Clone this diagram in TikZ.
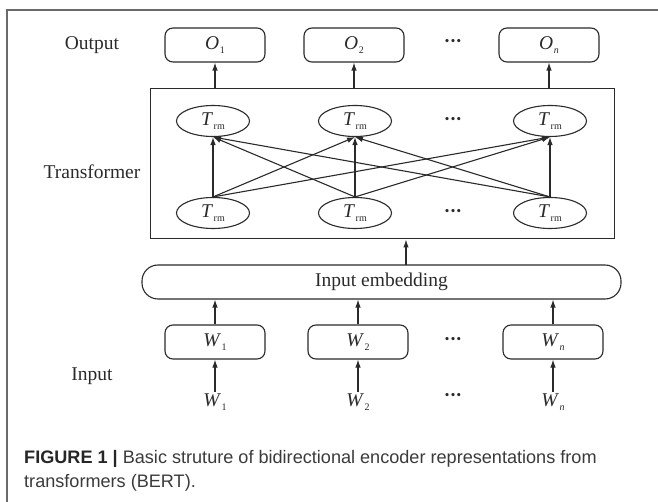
\documentclass[tikz,border=0pt]{standalone}
\usepackage{fontspec}
\setmainfont{Liberation Serif}
\newfontfamily\capfont{Liberation Sans}
\usetikzlibrary{arrows.meta,shapes.geometric}
\newcommand{\lbl}[2]{\textit{#1}\kern0.5pt\raisebox{-0.5ex}{\fontsize{10}{10}\selectfont #2}}
\newcommand{\mydots}{\textbf{\textperiodcentered\kern-0.5pt\textperiodcentered\kern-0.5pt\textperiodcentered}}
\definecolor{ink}{HTML}{2A2A2A}
\definecolor{framec}{HTML}{6A6A6A}
\definecolor{capc}{HTML}{3A3A3A}
\begin{document}
\begin{tikzpicture}[x=1pt,y=-1pt,
  every node/.style={font=\fontsize{19.5}{22}\selectfont, text=ink},
  rbox/.style={draw=ink, line width=1.1pt, rounded corners=8pt, minimum width=100pt, minimum height=34pt, inner sep=0pt},
  ell/.style={draw=ink, line width=1.1pt, ellipse, minimum width=73pt, minimum height=31pt, inner sep=0pt},
  arr/.style={draw=ink, line width=1.1pt, -{Latex[length=8pt,width=5.5pt]}},
  lab/.style={},
  dotsn/.style={}]
\useasboundingbox (0,0) rectangle (658,502);
% frame
\coordinate (fbl) at (7,502);
\coordinate (ftl) at (7,10);
\coordinate (ftr) at (658,10);
\draw[framec, line width=1.4pt] (fbl) -- (ftl) -- (ftr);
% labels
\node[lab] (lout) at (92,45) {Output};
\node[lab] (ltr) at (92,172) {Transformer};
\node[lab] (lin) at (92,376) {Input};
% output boxes
\node[rbox] (o1) at (215,45) {\lbl{O}{1}};
\node[rbox] (o2) at (354,45) {\lbl{O}{2}};
\node[rbox] (on) at (549,45) {\lbl{O}{\textit{n}}};
\node[dotsn] (od) at (453,43) {\mydots};
% transformer box
\node[draw=ink, line width=1pt, minimum width=464pt, minimum height=150pt, inner sep=0pt] (tb) at (382,164) {};
% ellipses
\node[ell] (t1) at (213,121) {\lbl{T}{rm}};
\node[ell] (t2) at (355,121) {\lbl{T}{rm}};
\node[ell] (tn) at (550,121) {\lbl{T}{rm}};
\node[dotsn] (td) at (453,121) {\mydots};
\node[ell] (b1) at (213,213) {\lbl{T}{rm}};
\node[ell] (b2) at (355,213) {\lbl{T}{rm}};
\node[ell] (bn) at (550,213) {\lbl{T}{rm}};
\node[dotsn] (bd) at (453,213) {\mydots};
% transformer arrows
\foreach \b in {b1,b2,bn}{
  \foreach \t in {t1,t2,tn}{
    \draw[arr] (\b.north) -- (\t.south);
  }
}
% output arrows
\draw[arr] (o1.south |- tb.north) -- (o1.south);
\draw[arr] (o2.south |- tb.north) -- (o2.south);
\draw[arr] (on.south |- tb.north) -- (on.south);
% input embedding
\node[draw=ink, line width=1.1pt, rounded corners=16pt, minimum width=479pt, minimum height=34pt, inner sep=0pt] (emb) at (381.5,282) {Input embedding};
\coordinate (ea) at (406,265);
\draw[arr] (ea) -- (ea |- tb.south);
% W boxes
\node[rbox] (w1) at (215,342) {\lbl{W}{1}};
\node[rbox] (w2) at (358,342) {\lbl{W}{2}};
\node[rbox] (wn) at (553,342) {\lbl{W}{\textit{n}}};
\node[dotsn] (wd) at (453,341) {\mydots};
\draw[arr] (w1.north) -- (w1.north |- emb.south);
\draw[arr] (w2.north) -- (w2.north |- emb.south);
\draw[arr] (wn.north) -- (wn.north |- emb.south);
% bottom inputs
\node[inner sep=1pt] (x1) at (215,402) {\lbl{W}{1}};
\node[inner sep=1pt] (x2) at (358,402) {\lbl{W}{2}};
\node[inner sep=1pt] (xn) at (553,402) {\lbl{W}{\textit{n}}};
\node[dotsn] (xd) at (453,397) {\mydots};
\draw[arr] (x1.north) -- (w1.south);
\draw[arr] (x2.north) -- (w2.south);
\draw[arr] (xn.north) -- (wn.south);
% caption
\node[anchor=base west, inner sep=0pt, text=capc, font=\capfont\fontsize{18.1}{20}\selectfont] (cap1) at (24,463) {\textbf{\color{black!85}FIGURE 1 |} Basic struture of bidirectional encoder representations from};
\node[anchor=base west, inner sep=0pt, text=capc, font=\capfont\fontsize{18.1}{20}\selectfont] (cap2) at (24,487) {transformers (BERT).};
\end{tikzpicture}
\end{document}
